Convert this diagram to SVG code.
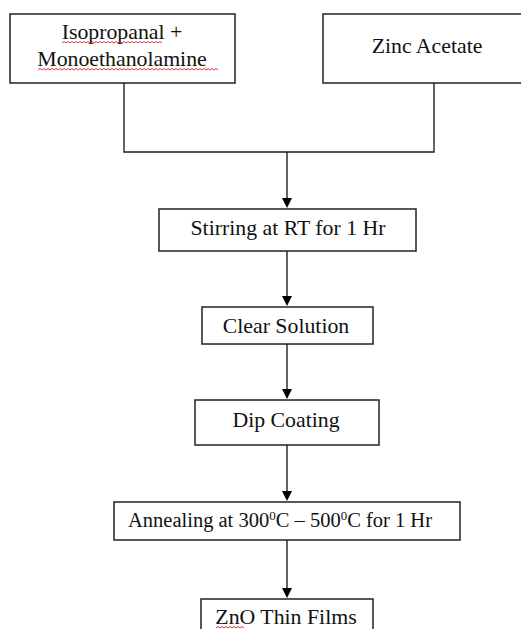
<svg xmlns="http://www.w3.org/2000/svg" width="521" height="629" viewBox="0 0 521 629">
<style>
.box{fill:#fff;stroke:#222;stroke-width:1.5}
.t{font-family:"Liberation Serif","Times New Roman",serif;font-size:21.8px;fill:#111;text-anchor:middle}
.c{fill:none;stroke:#222;stroke-width:1.4}
.ah{fill:#000}
.sq{fill:none;stroke:#e02020;stroke-width:0.9}
</style>
<rect width="521" height="629" fill="#fff"/>
<g id="connectors">
<path class="c" d="M124,83 V152 H434 V83"/>
<path class="c" d="M287,152 V200"/>
<path class="c" d="M287,251 V298"/>
<path class="c" d="M287,344 V391"/>
<path class="c" d="M287,445 V493"/>
<path class="c" d="M287,540 V590"/>
<path class="ah" d="M282,198 H292 L287,208 Z"/>
<path class="ah" d="M282,296 H292 L287,306 Z"/>
<path class="ah" d="M282,389 H292 L287,399 Z"/>
<path class="ah" d="M282,491 H292 L287,501 Z"/>
<path class="ah" d="M282,588 H292 L287,598 Z"/>
</g>
<g id="n1">
<rect class="box" x="10" y="14" width="225" height="69"/>
<text class="t" x="122" y="39">Isopropanal +</text>
<text class="t" x="122" y="66">Monoethanolamine</text>
<path class="sq" d="M62,43 l2,-1.5 l2,1.5 l2,-1.5 l2,1.5 l2,-1.5 l2,1.5 l2,-1.5 l2,1.5 l2,-1.5 l2,1.5 l2,-1.5 l2,1.5 l2,-1.5 l2,1.5 l2,-1.5 l2,1.5 l2,-1.5 l2,1.5 l2,-1.5 l2,1.5 l2,-1.5 l2,1.5 l2,-1.5 l2,1.5 l2,-1.5 l2,1.5 l2,-1.5 l2,1.5 l2,-1.5 l2,1.5 l2,-1.5 l2,1.5 l2,-1.5 l2,1.5 l2,-1.5 l2,1.5 l2,-1.5 l2,1.5 l2,-1.5 l2,1.5 l2,-1.5 l2,1.5 l2,-1.5 l2,1.5 l2,-1.5 l2,1.5 l2,-1.5 l2,1.5 l2,-1.5 l2,1.5"/>
<path class="sq" d="M38,70 l2,-1.5 l2,1.5 l2,-1.5 l2,1.5 l2,-1.5 l2,1.5 l2,-1.5 l2,1.5 l2,-1.5 l2,1.5 l2,-1.5 l2,1.5 l2,-1.5 l2,1.5 l2,-1.5 l2,1.5 l2,-1.5 l2,1.5 l2,-1.5 l2,1.5 l2,-1.5 l2,1.5 l2,-1.5 l2,1.5 l2,-1.5 l2,1.5 l2,-1.5 l2,1.5 l2,-1.5 l2,1.5 l2,-1.5 l2,1.5 l2,-1.5 l2,1.5 l2,-1.5 l2,1.5 l2,-1.5 l2,1.5 l2,-1.5 l2,1.5 l2,-1.5 l2,1.5 l2,-1.5 l2,1.5 l2,-1.5 l2,1.5 l2,-1.5 l2,1.5 l2,-1.5 l2,1.5 l2,-1.5 l2,1.5 l2,-1.5 l2,1.5 l2,-1.5 l2,1.5 l2,-1.5 l2,1.5 l2,-1.5 l2,1.5 l2,-1.5 l2,1.5 l2,-1.5 l2,1.5 l2,-1.5 l2,1.5 l2,-1.5 l2,1.5 l2,-1.5 l2,1.5 l2,-1.5 l2,1.5 l2,-1.5 l2,1.5 l2,-1.5 l2,1.5 l2,-1.5 l2,1.5 l2,-1.5 l2,1.5 l2,-1.5 l2,1.5 l2,-1.5 l2,1.5 l2,-1.5 l2,1.5 l2,-1.5 l2,1.5 l2,-1.5 l2,1.5"/>
</g>
<g id="n2">
<rect class="box" x="323" y="14" width="210" height="69"/>
<text class="t" x="427" y="53">Zinc Acetate</text>
</g>
<g id="n3">
<rect class="box" x="159" y="209" width="257" height="42"/>
<text class="t" x="288" y="235">Stirring at RT for 1 Hr</text>
</g>
<g id="n4">
<rect class="box" x="202" y="307" width="171" height="37"/>
<text class="t" x="286" y="333">Clear Solution</text>
</g>
<g id="n5">
<rect class="box" x="195" y="400" width="184" height="45"/>
<text class="t" x="286" y="427">Dip Coating</text>
</g>
<g id="n6">
<rect class="box" x="114" y="502" width="346" height="38"/>
<text class="t" x="280" y="527" style="font-size:20.5px">Annealing at 300<tspan font-size="13" dy="-7">0</tspan><tspan dy="7">C – 500</tspan><tspan font-size="13" dy="-7">0</tspan><tspan dy="7">C for 1 Hr</tspan></text>
</g>
<g id="n7">
<rect class="box" x="201" y="599" width="172" height="40"/>
<text class="t" x="286" y="624">ZnO Thin Films</text>
<path class="sq" d="M216,628 l2,-1.5 l2,1.5 l2,-1.5 l2,1.5 l2,-1.5 l2,1.5 l2,-1.5 l2,1.5 l2,-1.5 l2,1.5 l2,-1.5 l2,1.5 l2,-1.5 l2,1.5"/>
</g>
</svg>
